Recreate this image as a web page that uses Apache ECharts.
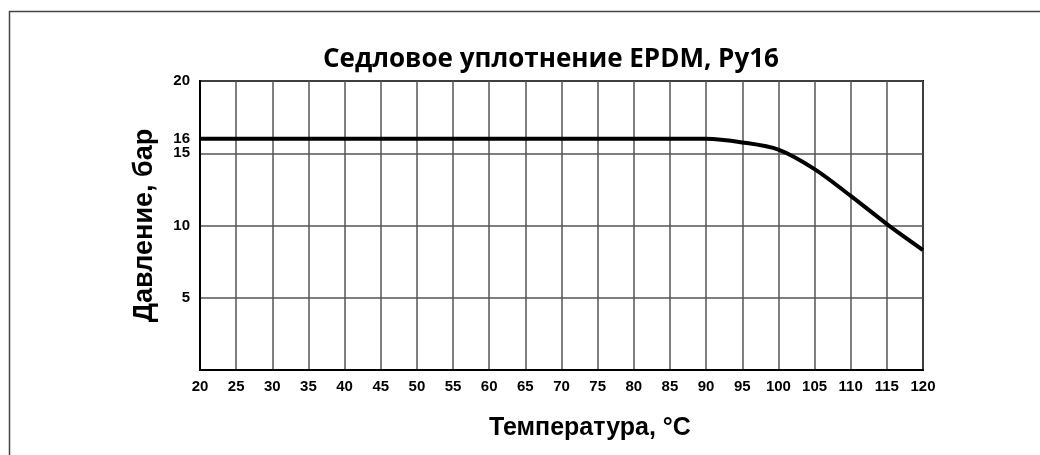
<!DOCTYPE html>
<html><head><meta charset="utf-8">
<script src="https://cdn.jsdelivr.net/npm/echarts@6/dist/echarts.min.js"></script>
<style>html,body{margin:0;padding:0;background:#fff}#c{width:1040px;height:455px}</style>
</head><body><div id="c"></div>
<script>
const titleText = 'Седловое уплотнение EPDM, Ру16';
const xName = 'Температура, °C';
const yName = 'Давление, бар';
const temps = [20, 25, 30, 35, 40, 45, 50, 55, 60, 65, 70, 75, 80, 85, 90, 95, 100, 105, 110, 115, 120];
const pressures = [16, 16, 16, 16, 16, 16, 16, 16, 16, 16, 16, 16, 16, 16, 16, 15.75, 15.25, 13.9, 12.05, 10.1, 8.3];
const yLabels = [5, 10, 15, 16, 20];

const chart = echarts.init(document.getElementById('c'));
chart.setOption({
  animation: false,
  backgroundColor: '#fff',
  title: {
    text: titleText, left: 546, top: 42, textAlign: 'center',
    textStyle: { fontFamily: 'Open Sans', fontWeight: 'bold', fontSize: 26, color: '#000' }
  },
  graphic: [
    { type: 'rect', shape: { x: 9.5, y: 11.5, width: 1100, height: 500 },
      style: { fill: 'none', stroke: '#444', lineWidth: 1.5 }, silent: true, z: -1 },
    { type: 'text', left: 489, top: 416,
      style: { text: xName, font: 'bold 25px "Liberation Sans", Arial', fill: '#000' } }
  ],
  grid: { left: 200, right: 117, top: 81, bottom: 85, show: true, borderColor: '#000', borderWidth: 2 },
  xAxis: {
    type: 'value', min: 20, max: 120, interval: 5,
    axisLine: { show: true, lineStyle: { color: '#000', width: 2 } },
    axisTick: { show: false },
    axisLabel: { color: '#000', fontWeight: 'bold', fontSize: 15, fontFamily: 'Liberation Sans', margin: 9 },
    splitLine: { show: true, lineStyle: { color: '#555', width: 1.5 } }
  },
  yAxis: {
    type: 'value', min: 0, max: 20, interval: 5,
    name: yName, nameLocation: 'middle', nameGap: 42, nameRotate: 90,
    nameTextStyle: { color: '#000', fontWeight: 'bold', fontSize: 27, fontFamily: 'Liberation Sans' },
    axisLine: { show: true, lineStyle: { color: '#000', width: 2 } },
    axisTick: { show: false },
    axisLabel: { color: '#000', fontWeight: 'bold', fontSize: 15, fontFamily: 'Liberation Sans', margin: 10,
      customValues: yLabels, hideOverlap: false },
    splitLine: { show: true, lineStyle: { color: '#555', width: 1.5 } }
  },
  series: [{
    type: 'line', data: temps.map((t, i) => [t, pressures[i]]),
    smooth: 0.3, symbol: 'none', lineStyle: { color: '#000', width: 4 }
  }]
});
</script></body></html>
